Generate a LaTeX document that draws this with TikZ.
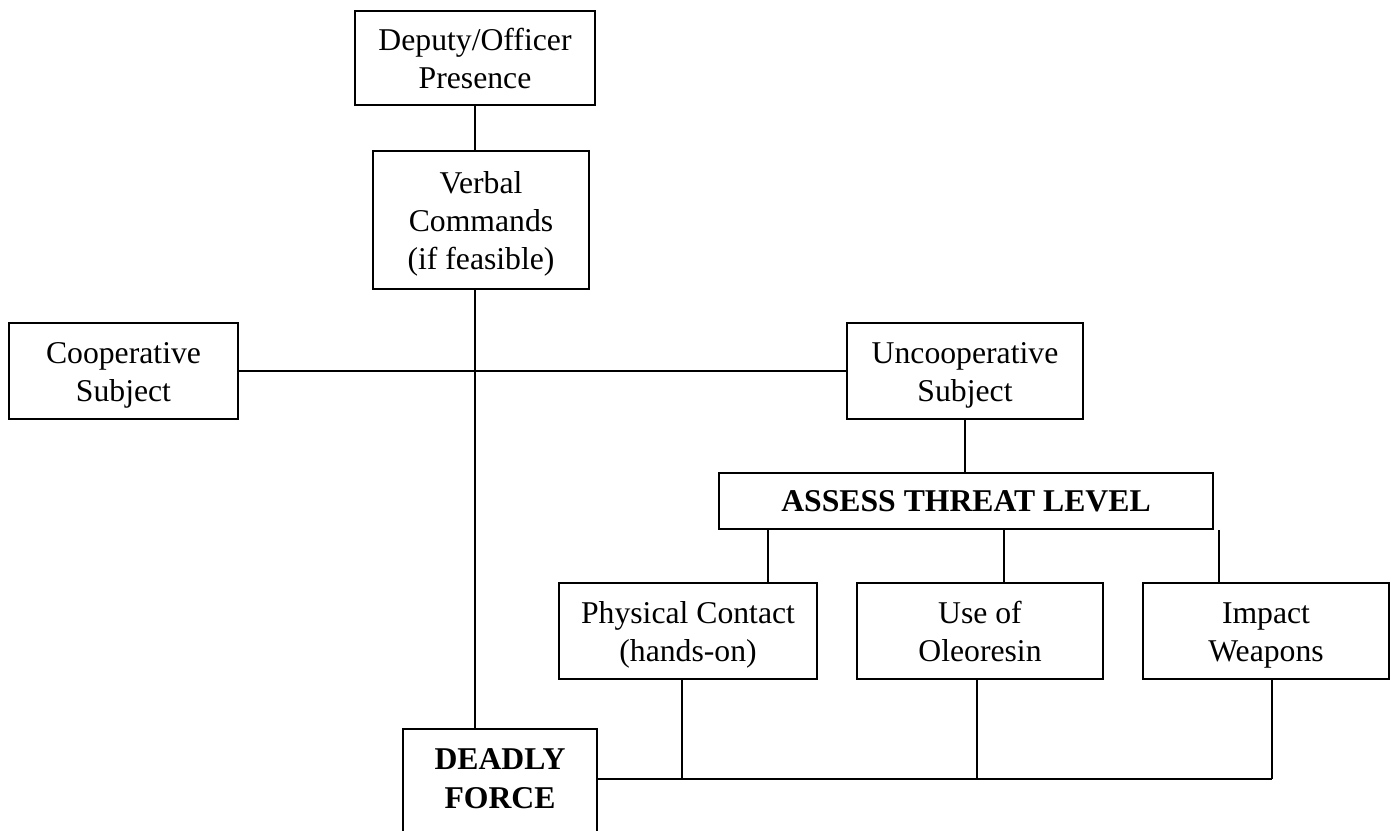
\documentclass[tikz,border=0pt]{standalone}
\usepackage{fontspec}
\setmainfont{Liberation Serif}
\newcommand\tstr{\rule{0pt}{30pt}}
\newcommand\bstr{\rule[-8pt]{0pt}{8pt}}
\begin{document}
\begin{tikzpicture}[x=1pt,y=-1pt,
  box/.style={draw=black,line width=2pt,inner sep=0pt,align=center,
    font=\fontsize{31.7}{38}\selectfont},
  plain/.style={inner sep=0pt,align=center,font=\fontsize{31.7}{38}\selectfont},
  conn/.style={draw=black,line width=1.6pt}]
\useasboundingbox (0,0) rectangle (1391,830);
\clip (0,0) rectangle (1391,830);
\fill[white] (0,0) rectangle (1391,830);
% nodes
\node[box,minimum width=240pt,minimum height=94pt] (deputy) at (475,58) {\tstr Deputy/Officer\\Presence\bstr};
\node[box,minimum width=216pt,minimum height=138pt] (verbal) at (481,220) {\tstr Verbal\\Commands\\(if feasible)\bstr};
\node[box,minimum width=229pt,minimum height=96pt] (coop) at (123.5,371) {\tstr Cooperative\\Subject\bstr};
\node[box,minimum width=236pt,minimum height=96pt] (uncoop) at (965,371) {\tstr Uncooperative\\Subject\bstr};
\node[box,minimum width=494pt,minimum height=56pt,font=\fontsize{31.7}{38}\selectfont\bfseries] (assess) at (966,501) {ASSESS THREAT LEVEL};
\node[box,minimum width=258pt,minimum height=96pt] (phys) at (688,631) {\tstr Physical Contact\\(hands-on)\bstr};
\node[box,minimum width=246pt,minimum height=96pt] (oleo) at (980,631) {\tstr Use of\\Oleoresin\bstr};
\node[box,minimum width=246pt,minimum height=96pt] (impact) at (1266,631) {\tstr Impact\\Weapons\bstr};
\node[plain,minimum width=194pt,minimum height=100pt,font=\fontsize{31.7}{39}\selectfont\bfseries] (deadly) at (500,779) {DEADLY\\FORCE};
\draw[line width=2pt] (deadly.north west) rectangle ([yshift=-40pt]deadly.south east);
% connectors
\draw[conn] (deputy.south) -- (deputy.south |- verbal.north);
\draw[conn] (deputy.south |- verbal.south) -- (deputy.south |- deadly.north);
\draw[conn] (coop.east) -- (uncoop.west);
\draw[conn] (uncoop.south) -- (uncoop.south |- assess.north);
\draw[conn] ([xshift=80pt]phys.north) -- ([xshift=80pt]phys.north |- assess.south);
\draw[conn] ([xshift=24pt]oleo.north) -- ([xshift=24pt]oleo.north |- assess.south);
\draw[conn] ([xshift=-47pt]impact.north) -- ([xshift=-47pt]impact.north |- assess.south);
\draw[conn] ([xshift=-6pt]phys.south) -- ([xshift=-6pt]phys.south |- deadly.east);
\draw[conn] ([xshift=-3pt]oleo.south) -- ([xshift=-3pt]oleo.south |- deadly.east);
\draw[conn] ([xshift=6pt]impact.south) -- ([xshift=6pt]impact.south |- deadly.east);
\draw[conn] (deadly.east) -- ([xshift=6pt]impact.south |- deadly.east);
\end{tikzpicture}
\end{document}
